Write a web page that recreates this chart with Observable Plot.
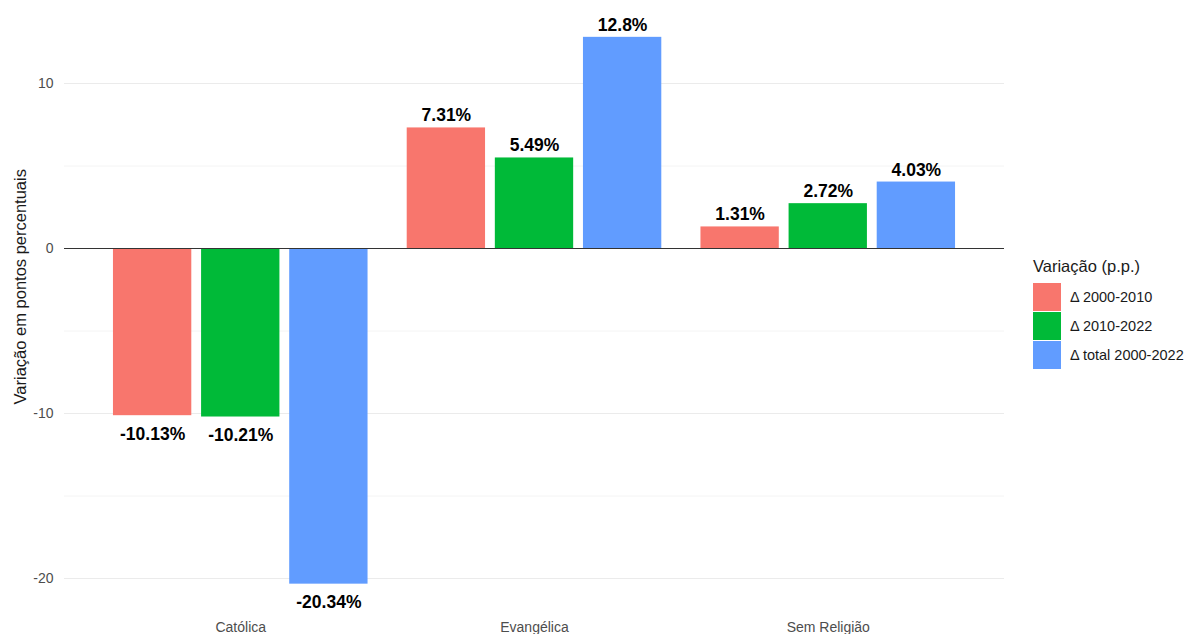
<!DOCTYPE html>
<html><head><meta charset="utf-8">
<script src="https://cdn.jsdelivr.net/npm/d3@7"></script>
<script src="https://cdn.jsdelivr.net/npm/@observablehq/plot@0.6"></script>
<style>
body{margin:0;background:#fff;font-family:"Liberation Sans",Arial,sans-serif;}
#wrap{position:relative;width:1193px;height:634px;overflow:hidden;background:#fff}
#chart{position:absolute;left:0;top:0}
#legend{position:absolute;left:1033px;top:256px;color:#1a1a1a}
#legend .lt{font-size:16.5px;line-height:20px;margin-bottom:6px}
#legend .row{display:flex;align-items:center;height:29px}
#legend .sw{width:28px;height:28px;margin-right:9px}
#legend .lb{font-size:14.5px}
</style></head><body>
<div id="wrap"><div id="chart"></div><div id="legend"></div></div>
<script>
const categories = ["Católica", "Evangélica", "Sem Religião"];
const series = ["Δ 2000-2010", "Δ 2010-2022", "Δ total 2000-2022"];
const v2000_2010 = [-10.13, 7.31, 1.31];
const v2010_2022 = [-10.21, 5.49, 2.72];
const vTotal = [-20.34, 12.8, 4.03];
const colors = ["#F8766D", "#00BA38", "#619CFF"];
const yTicks = [-20, -10, 0, 10];
const yMinor = [-15, -5, 5];
const yTitle = "Variação em pontos percentuais";
const legendTitle = "Variação (p.p.)";

const seriesValues = [v2000_2010, v2010_2022, vTotal];
const dodge = 0.9 / 3, barW = 0.8 / 3;
const rows = [];
categories.forEach((c, i) => {
  seriesValues.forEach((vals, s) => {
    const pos = i + 1 + (s - 1) * dodge;
    rows.push({category: c, series: series[s], value: vals[i], pos, x1: pos - barW / 2, x2: pos + barW / 2, label: `${vals[i]}%`});
  });
});
const all = rows.map(d => d.value);
const lo = d3.min(all), hi = d3.max(all), pad = (hi - lo) * 0.05;

const chart = Plot.plot({
  width: 1015, height: 634,
  marginLeft: 64, marginRight: 11, marginTop: 9.5, marginBottom: 23,
  style: {fontFamily: "Liberation Sans, Arial, sans-serif", background: "#fff"},
  x: {type: "linear", domain: [0.4, categories.length + 0.6], axis: null},
  y: {domain: [lo - pad, hi + pad], axis: null},
  color: {domain: series, range: colors},
  marks: [
    Plot.ruleY(yMinor, {stroke: "#ececec", strokeWidth: 0.6}),
    Plot.ruleY(yTicks, {stroke: "#ebebeb", strokeWidth: 1.1}),
    Plot.rectY(rows, {x1: "x1", x2: "x2", y1: 0, y2: "value", fill: "series"}),
    Plot.ruleY([0], {stroke: "#333", strokeWidth: 1.1}),
    Plot.text(rows.filter(d => d.value >= 0), {x: "pos", y: "value", text: "label", lineAnchor: "bottom", dy: -6.5, fontWeight: "bold", fontSize: 17.5, fill: "#000"}),
    Plot.text(rows.filter(d => d.value < 0), {x: "pos", y: "value", text: "label", lineAnchor: "bottom", dy: 24, fontWeight: "bold", fontSize: 17.5, fill: "#000"}),
    Plot.axisY({ticks: yTicks, tickFormat: d => String(d), tickSize: 0, tickPadding: 11, fontSize: 14, color: "#4d4d4d", label: null}),
    Plot.axisX({ticks: categories.map((c, i) => i + 1), tickFormat: i => categories[i - 1], tickSize: 0, tickPadding: 11, fontSize: 14, color: "#4d4d4d", label: null}),
    Plot.text([yTitle], {frameAnchor: "left", textAnchor: "middle", lineAnchor: "middle", rotate: -90, dx: -44, dy: -24, fontSize: 16.5, fill: "#1a1a1a"})
  ]
});
document.getElementById("chart").appendChild(chart);

const lg = document.getElementById("legend");
const t = document.createElement("div"); t.className = "lt"; t.textContent = legendTitle; lg.appendChild(t);
series.forEach((s, i) => {
  const r = document.createElement("div"); r.className = "row";
  const sw = document.createElement("div"); sw.className = "sw"; sw.style.background = colors[i];
  const lb = document.createElement("div"); lb.className = "lb"; lb.textContent = s;
  r.appendChild(sw); r.appendChild(lb); lg.appendChild(r);
});
</script></body></html>
